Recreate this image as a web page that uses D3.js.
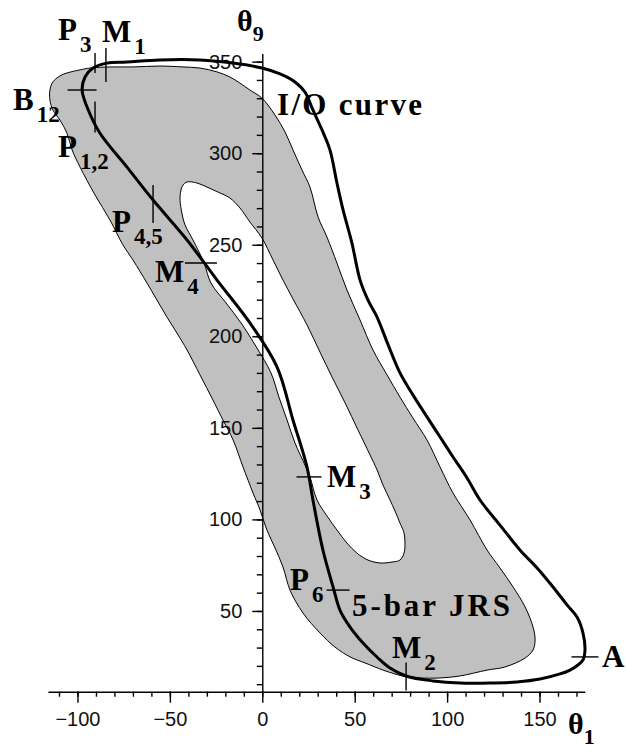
<!DOCTYPE html>
<html>
<head>
<meta charset="utf-8">
<script src="https://cdn.jsdelivr.net/npm/d3@7"></script>
<style>
  html, body { margin: 0; padding: 0; background: #fff; }
  svg { display: block; }
</style>
</head>
<body>
<svg id="chart" width="626" height="752"></svg>
<script>
// I/O curve of the linkage, (θ1, θ9) in degrees, traced as a closed loop
const ioCurve = [
  [-0.2,346.5],[9.6,343.3],[17.7,338.9],[23.1,333.4],[27.4,323.6],[32.3,312.7],[36.6,301.8],
  [40.4,283.7],[43.7,269.0],[48.5,250.9],[52.9,230.7],[57.2,219.8],[62.1,210.5],[68.1,195.3],
  [74.5,180.0],[81.5,168.0],[89.1,156.0],[96.2,145.0],[103.2,134.1],[110.8,122.6],[117.8,110.6],
  [128.6,96.9],[139.4,83.3],[148.7,73.5],[157.3,63.1],[164.9,53.3],[170.3,46.7],[173.5,38.0],
  [174.6,28.7],[173.5,23.2],[170.8,20.5],[166.5,17.7],[161.1,15.6],[150.3,12.8],[137.8,11.2],
  [123.2,10.6],[107.0,10.6],[92.4,11.8],[77.8,14.5],[69.1,18.8],[62.6,24.3],[54.5,32.5],
  [47.5,41.2],[42.0,50.5],[38.3,63.1],[32.8,83.3],[27.4,110.6],[24.2,128.6],[16.6,154.3],
  [8.0,183.2],[-6.7,207.3],[-24.5,230.7],[-40.7,252.6],[-59.1,274.4],[-73.2,292.4],[-87.9,311.0],
  [-94.8,325.2],[-97.5,334.5],[-95.9,341.6],[-91.6,346.5],[-84.0,349.2],[-73.2,349.8],
  [-55.4,350.9],[-33.7,350.9],[-15.8,349.2]
];

// Outer boundary of the 5-bar joint rotation space (JRS)
const jrsOuter = [
  [-114.9,334.5],[-113.3,338.9],[-109.5,342.2],[-105.7,343.8],[-98.6,345.5],[-93.2,346.5],
  [-82.4,347.1],[-70.0,347.1],[-55.4,347.6],[-42.9,347.1],[-33.7,346.5],[-24.5,344.4],
  [-17.5,341.6],[-12.1,338.3],[-6.7,334.5],[-0.2,330.1],[6.9,320.8],[12.3,311.6],[16.6,301.8],
  [21.5,290.8],[25.8,281.5],[30.2,265.1],[35.0,254.2],[40.4,240.0],[45.8,225.3],[52.9,208.9],
  [59.9,192.5],[67.5,178.9],[74.5,166.8],[81.5,155.4],[89.1,143.4],[96.2,128.6],[103.2,114.4],
  [112.4,99.7],[121.6,83.3],[128.6,73.5],[135.7,63.1],[142.2,52.2],[146.5,41.2],[147.6,34.1],
  [146.5,28.7],[142.2,24.3],[131.3,19.4],[121.6,17.7],[107.0,14.5],[96.2,13.4],[85.3,13.4],
  [78.3,13.9],[71.8,15.6],[65.3,17.7],[55.6,21.6],[47.5,24.9],[39.3,30.3],[31.2,38.0],
  [22.0,48.9],[15.0,61.4],[11.2,74.0],[6.9,84.4],[2.5,94.2],[-1.2,105.1],[-5.0,114.4],
  [-10.4,128.6],[-15.8,143.4],[-21.3,154.3],[-26.7,165.2],[-33.7,178.9],[-40.7,192.5],
  [-46.2,201.8],[-51.6,210.5],[-57.0,219.8],[-62.4,229.1],[-70.0,241.7],[-75.4,249.9],
  [-82.4,263.5],[-90.5,277.2],[-98.6,292.4],[-102.9,301.8],[-105.7,311.0],[-109.5,318.1],
  [-113.3,323.6],[-114.9,329.0]
];

// Inner void of the JRS
const jrsHole = [
  [-40.7,284.3],[-35.3,283.7],[-29.9,281.5],[-24.0,278.8],[-17.5,275.5],[-12.1,270.1],
  [-6.7,262.4],[-0.2,253.7],[5.8,241.7],[11.2,230.7],[16.6,220.4],[24.2,206.2],[31.2,191.4],
  [37.7,177.8],[44.8,163.6],[51.8,148.8],[58.3,135.2],[62.1,127.0],[65.3,118.8],[69.1,110.6],
  [71.8,104.6],[74.5,98.0],[76.7,92.6],[77.2,87.1],[76.7,81.6],[74.5,77.8],[70.2,76.7],
  [63.7,76.2],[57.2,77.8],[51.2,81.6],[45.8,87.1],[40.4,94.2],[35.0,101.9],[29.6,110.6],
  [25.8,123.2],[23.1,129.7],[17.7,141.7],[13.4,154.3],[9.0,166.8],[4.7,180.0],[-2.9,193.6],
  [-11.5,207.3],[-19.6,218.2],[-27.8,229.1],[-31.5,240.0],[-37.5,252.6],[-41.8,260.8],
  [-43.5,267.3],[-44.5,274.4],[-44.0,279.9],[-42.9,282.6]
];

// Special configurations marked on the I/O curve
const markerIds = ["P3", "M1", "B12", "P12", "P45", "M4", "M3", "P6", "M2", "A"];
const markerLetters = ["P", "M", "B", "P", "P", "M", "M", "P", "M", "A"];
const markerSubs = ["3", "1", "12", "1,2", "4,5", "4", "3", "6", "2", ""];
const markerTheta1 = [-90.5, -84.6, -97.5, -90.5, -59.1, -33.2, 25.3, 41.0, 77.8, 174.6];
const markerTheta9 = [349.2, 348.1, 334.5, 319.7, 272.3, 240.0, 123.2, 61.4, 14.2, 24.9];

// Axis ticks
const xTickLabels = [-100, -50, 0, 50, 100, 150];
const yTickLabels = [50, 100, 150, 200, 250, 300, 350];
const xMinorTicks = [-110,-100,-90,-80,-70,-60,-50,-40,-30,-20,-10,0,10,20,30,40,50,60,70,80,90,100,110,120,130,140,150,160,170];
const yMinorTicks = [10,20,30,40,50,60,70,80,90,100,110,120,130,140,150,160,170,180,190,200,210,220,230,240,250,260,270,280,290,300,310,320,330,340,350];

// ---- drawing ----
const svg = d3.select("#chart");
const x = d3.scaleLinear().domain([-116, 174.5]).range([47.9, 584.8]);
const y = d3.scaleLinear().domain([5.9, 354.5]).range([691.7, 53.4]);

const closedPath = d3.line()
  .x(d => x(d[0])).y(d => y(d[1]))
  .curve(d3.curveCatmullRomClosed.alpha(0.5));

// gray JRS with its void
svg.append("path").attr("d", closedPath(jrsOuter))
  .attr("fill", "#c0c0c0").attr("stroke", "#000").attr("stroke-width", 1);
svg.append("path").attr("d", closedPath(jrsHole))
  .attr("fill", "#fff").attr("stroke", "#000").attr("stroke-width", 1);

// axes crossing at (0, lower end of θ9)
const tickFont = "'Liberation Sans', Arial, sans-serif";
function styleAxis(g) {
  g.selectAll("path, line").attr("stroke", "#000").attr("stroke-width", 1.4);
  g.selectAll("text").attr("font-family", tickFont).attr("font-size", 20).attr("fill", "#111");
}
svg.append("g").attr("transform", `translate(0,${y(5.9)})`)
  .call(d3.axisBottom(x).tickValues(xMinorTicks).tickSize(5).tickSizeOuter(0).tickFormat(""))
  .call(styleAxis);
svg.append("g").attr("transform", `translate(0,${y(5.9)})`)
  .call(d3.axisBottom(x).tickValues(xTickLabels).tickSize(11).tickPadding(9).tickSizeOuter(0))
  .call(g => g.select(".domain").remove())
  .call(styleAxis);
svg.append("g").attr("transform", `translate(${x(0)},0)`)
  .call(d3.axisLeft(y).tickValues(yMinorTicks).tickSize(5.5).tickSizeOuter(0).tickFormat(""))
  .call(styleAxis);
svg.append("g").attr("transform", `translate(${x(0)},0)`)
  .call(d3.axisLeft(y).tickValues(yTickLabels).tickSize(10).tickPadding(10).tickSizeOuter(0))
  .call(g => g.select(".domain").remove())
  .call(styleAxis);

// I/O curve
svg.append("path").attr("d", closedPath(ioCurve))
  .attr("fill", "none").attr("stroke", "#000").attr("stroke-width", 3)
  .attr("stroke-linejoin", "round");

// marker ticks and their labels
const markerLayout = {
  P3:  { dir: "v", len: 20, dx: -37, dy: -23 },
  M1:  { dir: "v", len: 34, dx: -4,  dy: -23 },
  B12: { dir: "h", len: 29, dx: -69, dy: 20 },
  P12: { dir: "v", len: 31, dx: -37, dy: 40 },
  P45: { dir: "v", len: 38, dx: -41, dy: 28 },
  M4:  { dir: "h", len: 32, dx: -46, dy: 19 },
  M3:  { dir: "h", len: 25, dx: 18,  dy: 10 },
  P6:  { dir: "h", len: 23, dx: -48, dy: 0 },
  M2:  { dir: "v", len: 28, dx: -14, dy: -19 },
  A:   { dir: "h", len: 27, dx: 17,  dy: 10 }
};
const labelFont = "'Liberation Serif', 'Times New Roman', serif";

markerIds.forEach((id, i) => {
  const cx = x(markerTheta1[i]), cy = y(markerTheta9[i]);
  const m = markerLayout[id];
  const h = m.len / 2;
  svg.append("line")
    .attr("x1", m.dir === "h" ? cx - h : cx).attr("x2", m.dir === "h" ? cx + h : cx)
    .attr("y1", m.dir === "v" ? cy - h : cy).attr("y2", m.dir === "v" ? cy + h : cy)
    .attr("stroke", "#000").attr("stroke-width", 1.4);
  const t = svg.append("text")
    .attr("x", cx + m.dx).attr("y", cy + m.dy)
    .attr("font-family", labelFont).attr("font-weight", "bold")
    .attr("font-size", 31).attr("fill", "#000");
  t.append("tspan").text(markerLetters[i]);
  if (markerSubs[i]) {
    t.append("tspan").attr("dx", 3).attr("dy", 12).attr("font-size", 23).text(markerSubs[i]);
  }
});

// region / curve captions
svg.append("text").attr("x", 277).attr("y", 115)
  .attr("font-family", labelFont).attr("font-weight", "bold").attr("font-size", 31)
  .attr("textLength", 145).attr("lengthAdjust", "spacing")
  .text("I/O  curve");
svg.append("text").attr("x", 352).attr("y", 616)
  .attr("font-family", labelFont).attr("font-weight", "bold").attr("font-size", 31)
  .attr("textLength", 158).attr("lengthAdjust", "spacing")
  .text("5-bar JRS");

// axis titles
function axisTitle(px, py, sub) {
  const t = svg.append("text").attr("x", px).attr("y", py)
    .attr("font-family", labelFont).attr("font-weight", "bold")
    .attr("font-size", 30).attr("fill", "#000");
  t.append("tspan").text("θ");
  t.append("tspan").attr("dx", 0).attr("dy", 10).attr("font-size", 22).text(sub);
}
axisTitle(237, 31, "9");
axisTitle(568, 734, "1");
</script>
</body>
</html>
